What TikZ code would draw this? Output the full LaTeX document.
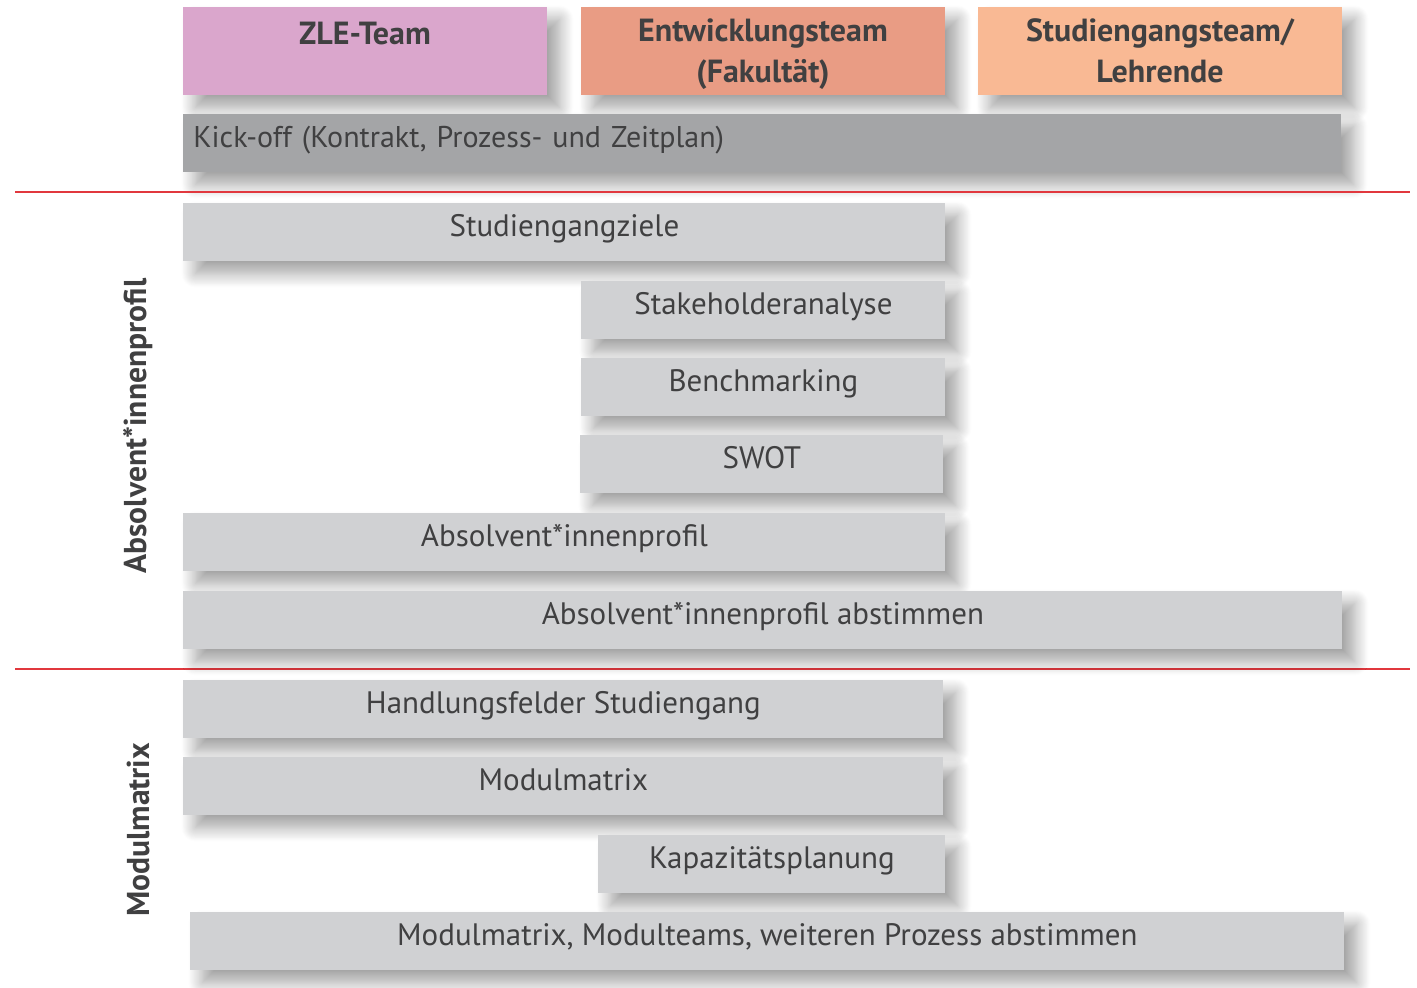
\documentclass[tikz,border=0pt]{standalone}
\usepackage{fontspec}
\setmainfont{PT Sans}
\usetikzlibrary{shadows.blur}
\definecolor{txt}{HTML}{404041}
\definecolor{zle}{HTML}{DAA6CC}
\definecolor{ent}{HTML}{E99C84}
\definecolor{stu}{HTML}{F9B994}
\definecolor{kick}{HTML}{A4A5A7}
\definecolor{step}{HTML}{D0D1D3}
\definecolor{sep}{HTML}{E1383E}
\tikzset{
  shad/.style={blur shadow={shadow xshift=6pt, shadow yshift=-6pt, shadow blur radius=7pt, shadow opacity=38, shadow blur steps=16}},
  box/.style={shad, anchor=north west, inner sep=0pt, text=txt,
     font=\fontsize{15.5}{20.5}\selectfont, text height=0.7em, text depth=0.3em},
  head/.style={box, align=center, minimum width=182pt, minimum height=44pt},
  headtxt/.style={text=txt, font=\bfseries\fontsize{16}{20.5}\selectfont, align=center, inner sep=0pt},
  stepbox/.style={box, fill=step, minimum height=29pt},
  sepline/.style={draw=sep, line width=0.6pt},
  side/.style={rotate=90, text=txt, font=\bfseries\fontsize{15.8}{18}\selectfont}
}
\begin{document}
\begin{tikzpicture}[x=0.5pt,y=-0.5pt]
\useasboundingbox (0,0) rectangle (1417,987);
% headers
\node[head, fill=zle] (zle) at (183,7) {};
\node[headtxt, anchor=base] (zlet) at (365,44) {ZLE-Team};
\node[head, fill=ent] (ent) at (581,7) {};
\node[headtxt, anchor=north] (entt) at (763,18) {Entwicklungsteam\\(Fakultät)};
\node[head, fill=stu] (stu) at (978,7) {};
\node[headtxt, anchor=north] (stut) at (1160,18) {Studiengangsteam/\\Lehrende};
% kick-off
\node[box, fill=kick, minimum width=579pt, minimum height=29pt, align=left, text width=574pt, font=\fontsize{15}{20.5}\selectfont, text height=0.75em] (kick) at (183,114) {\hspace*{2.5pt}Kick-off (Kontrakt, Prozess- und Zeitplan)};
% separators
\coordinate (s1a) at (15,192); \coordinate (s1b) at (1410,192);
\coordinate (s2a) at (15,669); \coordinate (s2b) at (1410,669);
\draw[sepline] (s1a) -- (s1b);
\draw[sepline] (s2a) -- (s2b);
% section 1
\node[stepbox, minimum width=381pt] (ziele) at (183,203) {Studiengangziele};
\node[stepbox, minimum width=182pt] (stake) at (581,281) {Stakeholderanalyse};
\node[stepbox, minimum width=182pt] (bench) at (581,358) {Benchmarking};
\node[stepbox, minimum width=181.5pt] (swot) at (580,435) {SWOT};
\node[stepbox, minimum width=381pt] (profil) at (183,513) {Absolvent*innenprofil};
\node[stepbox, minimum width=579.5pt] (abst) at (183,591) {Absolvent*innenprofil abstimmen};
% section 2
\node[stepbox, minimum width=380pt] (hand) at (183,680) {Handlungsfelder Studiengang};
\node[stepbox, minimum width=380pt] (modul) at (183,757) {Modulmatrix};
\node[stepbox, minimum width=173.5pt] (kap) at (598,835) {Kapazitätsplanung};
\node[stepbox, minimum width=577pt] (final) at (190,912) {Modulmatrix, Modulteams, weiteren Prozess abstimmen};
% side labels
\node[side] (l1) at (138,426) {Absolvent*innenprofil};
\node[side] (l2) at (138,830) {Modulmatrix};
\end{tikzpicture}
\end{document}
